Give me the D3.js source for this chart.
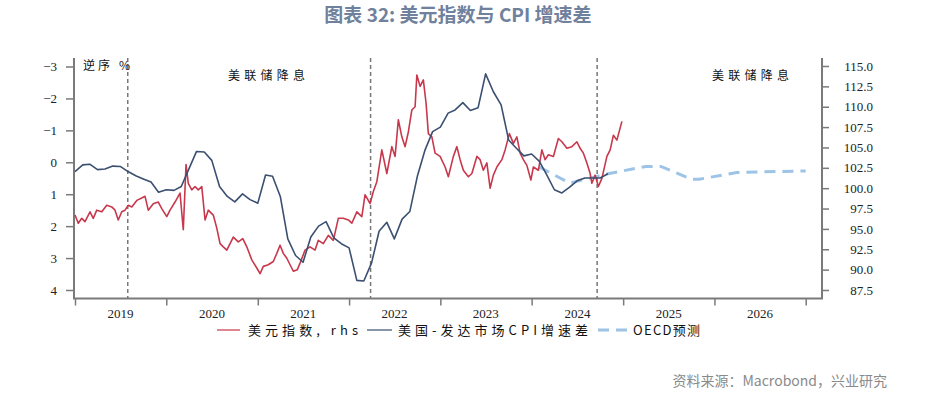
<!DOCTYPE html>
<html>
<head>
<meta charset="utf-8">
<script src="https://cdn.jsdelivr.net/npm/d3@7"></script>
<style>
  body { margin: 0; background: #fff; }
  svg text { font-family: "Liberation Serif", serif; }
  .cjk { font-family: "Noto Sans CJK SC", sans-serif; }
</style>
</head>
<body>
<div id="chart"></div>
<script>
// US dollar index (rhs)
const dxyDates = [
  '2019-01-01','2019-01-14','2019-01-28','2019-02-10','2019-03-02','2019-03-15','2019-03-29','2019-04-18',
  '2019-05-08','2019-05-28','2019-06-10','2019-06-23','2019-07-07','2019-07-20','2019-08-02','2019-08-16',
  '2019-09-05','2019-09-25','2019-10-08','2019-10-21','2019-11-10','2019-11-30','2019-12-14','2020-01-03',
  '2020-01-16','2020-02-05','2020-02-25','2020-03-09','2020-03-20','2020-03-29','2020-04-12','2020-04-25',
  '2020-05-08','2020-05-22','2020-06-04','2020-06-17','2020-07-07','2020-07-21','2020-08-03','2020-08-16',
  '2020-08-30','2020-09-12','2020-09-25','2020-10-15','2020-11-02','2020-11-18','2020-12-08','2020-12-28',
  '2021-01-10','2021-01-23','2021-02-12','2021-03-04','2021-03-18','2021-03-31','2021-04-13','2021-04-27',
  '2021-05-10','2021-05-23','2021-06-08','2021-06-19','2021-07-09','2021-07-29','2021-08-18','2021-08-31',
  '2021-09-20','2021-10-10','2021-10-30','2021-11-19','2021-12-09','2021-12-29','2022-01-12','2022-02-01',
  '2022-02-21','2022-03-06','2022-03-26','2022-04-08','2022-04-22','2022-05-12','2022-06-01','2022-06-21',
  '2022-07-04','2022-07-17','2022-07-31','2022-08-13','2022-08-26','2022-09-09','2022-09-22','2022-09-29',
  '2022-10-12','2022-10-25','2022-11-05','2022-11-14','2022-11-28','2022-12-11','2022-12-31','2023-01-20',
  '2023-02-02','2023-02-22','2023-03-08','2023-03-21','2023-04-03','2023-04-23','2023-05-07','2023-05-27',
  '2023-06-09','2023-06-22','2023-07-06','2023-07-19','2023-08-01','2023-08-15','2023-09-04','2023-09-17',
  '2023-10-04','2023-10-20','2023-11-03','2023-11-16','2023-11-29','2023-12-13','2023-12-29','2024-01-08',
  '2024-01-28','2024-02-11','2024-02-24','2024-03-08','2024-03-28','2024-04-17','2024-05-01','2024-05-21',
  '2024-06-10','2024-06-30','2024-07-13','2024-07-26','2024-08-09','2024-08-22','2024-08-29','2024-09-11',
  '2024-09-24','2024-10-08','2024-10-28','2024-11-10','2024-11-23','2024-12-07','2024-12-27'
];
const dxyValues = [
  96.7, 95.7, 96.3, 95.9, 97.1, 96.3, 97.3, 97.1,
  97.9, 97.7, 97.3, 96.1, 97.1, 97.3, 97.9, 97.7,
  98.5, 98.8, 99.0, 97.3, 98.1, 98.3, 97.5, 96.5,
  97.3, 98.3, 99.4, 94.9, 102.9, 100.6, 99.8, 100.2,
  99.8, 100.2, 96.1, 97.3, 96.7, 95.1, 93.2, 92.8,
  92.4, 93.2, 94.0, 93.4, 93.8, 92.8, 91.2, 90.2,
  89.5, 90.4, 90.6, 91.0, 92.0, 93.0, 92.0, 91.4,
  90.6, 89.8, 90.0, 90.8, 92.4, 92.8, 92.4, 93.6,
  93.2, 94.2, 93.6, 96.3, 96.3, 96.1, 95.7, 97.1,
  96.5, 99.2, 98.1, 99.6, 100.8, 104.7, 101.8, 105.1,
  103.9, 108.4, 106.3, 105.1, 106.9, 109.6, 110.0, 113.9,
  112.5, 113.3, 110.4, 106.7, 106.3, 104.3, 103.9, 102.6,
  101.4, 103.9, 105.1, 103.5, 102.2, 101.4, 101.8, 103.9,
  103.5, 102.2, 103.1, 100.0, 101.6, 102.6, 103.5, 104.7,
  106.7, 105.5, 106.3, 104.3, 103.5, 102.8, 101.0, 102.6,
  102.2, 104.7, 103.5, 104.1, 103.9, 106.1, 105.7, 104.9,
  105.1, 105.7, 104.9, 104.3, 103.1, 101.8, 100.6, 101.6,
  100.2, 101.2, 103.9, 104.7, 106.5, 105.9, 108.2
];

// US minus developed markets CPI growth gap, % (lhs, inverted), monthly
const cpiMonths = [
  '2019-01','2019-02','2019-03','2019-04','2019-05','2019-06','2019-07','2019-08','2019-09','2019-10','2019-11','2019-12',
  '2020-01','2020-02','2020-03','2020-04','2020-05','2020-06','2020-07','2020-08','2020-09','2020-10','2020-11','2020-12',
  '2021-01','2021-02','2021-03','2021-04','2021-05','2021-06','2021-07','2021-08','2021-09','2021-10','2021-11','2021-12',
  '2022-01','2022-02','2022-03','2022-04','2022-05','2022-06','2022-07','2022-08','2022-09','2022-10','2022-11','2022-12',
  '2023-01','2023-02','2023-03','2023-04','2023-05','2023-06','2023-07','2023-08','2023-09','2023-10','2023-11','2023-12',
  '2024-01','2024-02','2024-03','2024-04','2024-05','2024-06','2024-07','2024-08','2024-09','2024-10','2024-11'
];
const cpiGap = [
  0.29, 0.08, 0.06, 0.23, 0.21, 0.12, 0.13, 0.29, 0.42, 0.52, 0.62, 0.94,
  0.86, 0.88, 0.76, 0.20, -0.34, -0.32, -0.06, 0.76, 1.07, 1.24, 0.99, 1.17,
  1.28, 0.40, 0.44, 1.07, 2.40, 2.92, 3.13, 2.34, 2.00, 1.86, 2.37, 2.55,
  2.68, 3.70, 3.72, 3.15, 2.16, 1.88, 2.40, 1.78, 1.54, 0.44, -0.39, -0.96,
  -1.10, -1.54, -1.64, -1.87, -1.62, -1.71, -2.77, -2.21, -1.80, -0.70, -0.44, -0.20,
  -0.26, -0.03, 0.39, 0.86, 0.96, 0.78, 0.58, 0.49, 0.49, 0.49, 0.36
];

// OECD forecast of the gap
const oecdMonths = ['2024-02','2024-06','2024-11','2025-04','2025-06','2025-10','2025-11','2026-04','2027-01'];
const oecdGap = [0.15, 0.65, 0.36, 0.13, 0.13, 0.53, 0.53, 0.32, 0.27];

const leftTicks = [-3, -2, -1, 0, 1, 2, 3, 4];
const rightTicks = [87.5, 90, 92.5, 95, 97.5, 100, 102.5, 105, 107.5, 110, 112.5, 115];
const years = [2019, 2020, 2021, 2022, 2023, 2024, 2025, 2026];
const fedCutDates = ['2019-07-31', '2022-03-28', '2024-09-19'];

const W = 928, H = 395;
const parseDay = d3.timeParse('%Y-%m-%d');
const parseMonth = d3.timeParse('%Y-%m');

const svg = d3.select('#chart').append('svg')
  .attr('width', W)
  .attr('height', H);

const x = d3.scaleTime()
  .domain([new Date(2019, 0, 1), new Date(2027, 0, 1)])
  .range([75, 805.7]);
const yL = d3.scaleLinear().domain([-3, 4]).range([66.5, 290]);
const yR = d3.scaleLinear().domain([87.5, 115]).range([290, 66]);

const plotLeft = 74, plotRight = 822, plotTop = 58, plotBottom = 298.5;
const axisColor = '#7a7a7a';

// title
svg.append('text')
  .attr('class', 'cjk')
  .attr('x', 458).attr('y', 22)
  .attr('text-anchor', 'middle')
  .style('font-size', '19px')
  .style('font-weight', 'bold')
  .style('fill', '#6f819c')
  .text('图表 32: 美元指数与 CPI 增速差');

// fed policy markers
svg.append('g').selectAll('line')
  .data(fedCutDates)
  .enter()
  .append('line')
  .attr('x1', d => x(parseDay(d)))
  .attr('x2', d => x(parseDay(d)))
  .attr('y1', plotTop)
  .attr('y2', plotBottom)
  .style('stroke', '#777')
  .style('stroke-width', 1.5)
  .style('stroke-dasharray', '4,3');

// left axis
const leftAxis = svg.append('g')
  .attr('transform', `translate(${plotLeft}, 0)`)
  .call(d3.axisLeft(yL).tickValues(leftTicks).tickSize(8).tickPadding(9).tickFormat(d3.format('d')));
leftAxis.select('.domain').remove();

// right axis
const rightAxis = svg.append('g')
  .attr('transform', `translate(${plotRight}, 0)`)
  .call(d3.axisRight(yR).tickValues(rightTicks).tickSize(7).tickPadding(0).tickFormat(d3.format('.1f')));
rightAxis.select('.domain').remove();
rightAxis.selectAll('text').attr('x', 51).attr('text-anchor', 'end');

// bottom axis: ticks at year boundaries, labels mid-year
const bottomAxis = svg.append('g')
  .attr('transform', `translate(0, ${plotBottom})`)
  .call(d3.axisBottom(x).tickValues(years.concat([2027]).map(y => new Date(y, 0, 1))).tickSize(7).tickFormat(''));
bottomAxis.select('.domain').remove();

svg.append('g').selectAll('text')
  .data(years)
  .enter()
  .append('text')
  .attr('x', d => x(new Date(d, 6, 2)))
  .attr('y', 318)
  .attr('text-anchor', 'middle')
  .style('font-size', '13px')
  .style('fill', '#222')
  .text(d => d);

[leftAxis, rightAxis, bottomAxis].forEach(g => {
  g.selectAll('line').style('stroke', axisColor).style('stroke-width', 1.5);
  g.selectAll('text').style('font-size', '13px').style('fill', '#222')
    .style('font-family', '"Liberation Serif", serif');
});

// axis lines
svg.append('line')
  .attr('x1', plotLeft).attr('x2', plotLeft).attr('y1', plotTop).attr('y2', plotBottom)
  .style('stroke', axisColor).style('stroke-width', 2);
svg.append('line')
  .attr('x1', plotRight).attr('x2', plotRight).attr('y1', plotTop).attr('y2', plotBottom)
  .style('stroke', axisColor).style('stroke-width', 2);
svg.append('line')
  .attr('x1', plotLeft - 1).attr('x2', plotRight + 1).attr('y1', plotBottom).attr('y2', plotBottom)
  .style('stroke', axisColor).style('stroke-width', 2);

// lines
const dxy = dxyDates.map((d, i) => ({ date: parseDay(d), v: dxyValues[i] }));
const cpi = cpiMonths.map((d, i) => ({ date: parseMonth(d), v: cpiGap[i] }));
const oecd = oecdMonths.map((d, i) => ({ date: parseMonth(d), v: oecdGap[i] }));

svg.append('path')
  .datum(oecd)
  .attr('d', d3.line().x(d => x(d.date)).y(d => yL(d.v)))
  .style('fill', 'none')
  .style('stroke', '#9dc3e6')
  .style('stroke-width', 3)
  .style('stroke-dasharray', '11,7');

svg.append('path')
  .datum(dxy)
  .attr('d', d3.line().x(d => x(d.date)).y(d => yR(d.v)))
  .style('fill', 'none')
  .style('stroke', '#c8384c')
  .style('stroke-width', 1.6)
  .style('stroke-linejoin', 'round');

svg.append('path')
  .datum(cpi)
  .attr('d', d3.line().x(d => x(d.date)).y(d => yL(d.v)))
  .style('fill', 'none')
  .style('stroke', '#3b4f70')
  .style('stroke-width', 1.6)
  .style('stroke-linejoin', 'round');

// annotations
const notes = [
  { text: '逆序  %', x: 83, y: 70, len: 47 },
  { text: '美联储降息', x: 228, y: 80, len: 77 },
  { text: '美联储降息', x: 712, y: 80, len: 77 }
];
svg.append('g').selectAll('text')
  .data(notes)
  .enter()
  .append('text')
  .attr('class', 'cjk')
  .attr('x', d => d.x)
  .attr('y', d => d.y)
  .attr('textLength', d => d.len)
  .attr('lengthAdjust', 'spacing')
  .style('font-size', '12px')
  .style('fill', '#111')
  .text(d => d.text);

// legend
const legend = svg.append('g');
const legendItems = [
  { label: '美元指数, rhs', x1: 217, x2: 240, tx: 248, len: 110, color: '#c8384c', width: 1.2, dash: null },
  { label: '美国-发达市场CPI增速差', x1: 367, x2: 392, tx: 398, len: 190, color: '#3b4f70', width: 1.2, dash: null },
  { label: 'OECD预测', x1: 598, x2: 627, tx: 633, len: 67, color: '#9dc3e6', width: 3, dash: '11,7' }
];
legendItems.forEach(d => {
  legend.append('line')
    .attr('x1', d.x1).attr('x2', d.x2)
    .attr('y1', 330).attr('y2', 330)
    .style('stroke', d.color)
    .style('stroke-width', d.width)
    .style('stroke-dasharray', d.dash);
  legend.append('text')
    .attr('class', 'cjk')
    .attr('x', d.tx).attr('y', 334.5)
    .attr('textLength', d.len)
    .attr('lengthAdjust', 'spacing')
    .style('font-size', '13px')
    .style('fill', '#111')
    .text(d.label);
});

// source
svg.append('text')
  .attr('class', 'cjk')
  .attr('x', 887).attr('y', 386)
  .attr('text-anchor', 'end')
  .style('font-size', '14px')
  .style('fill', '#8a8a8a')
  .text('资料来源：Macrobond，兴业研究');
</script>
</body>
</html>
